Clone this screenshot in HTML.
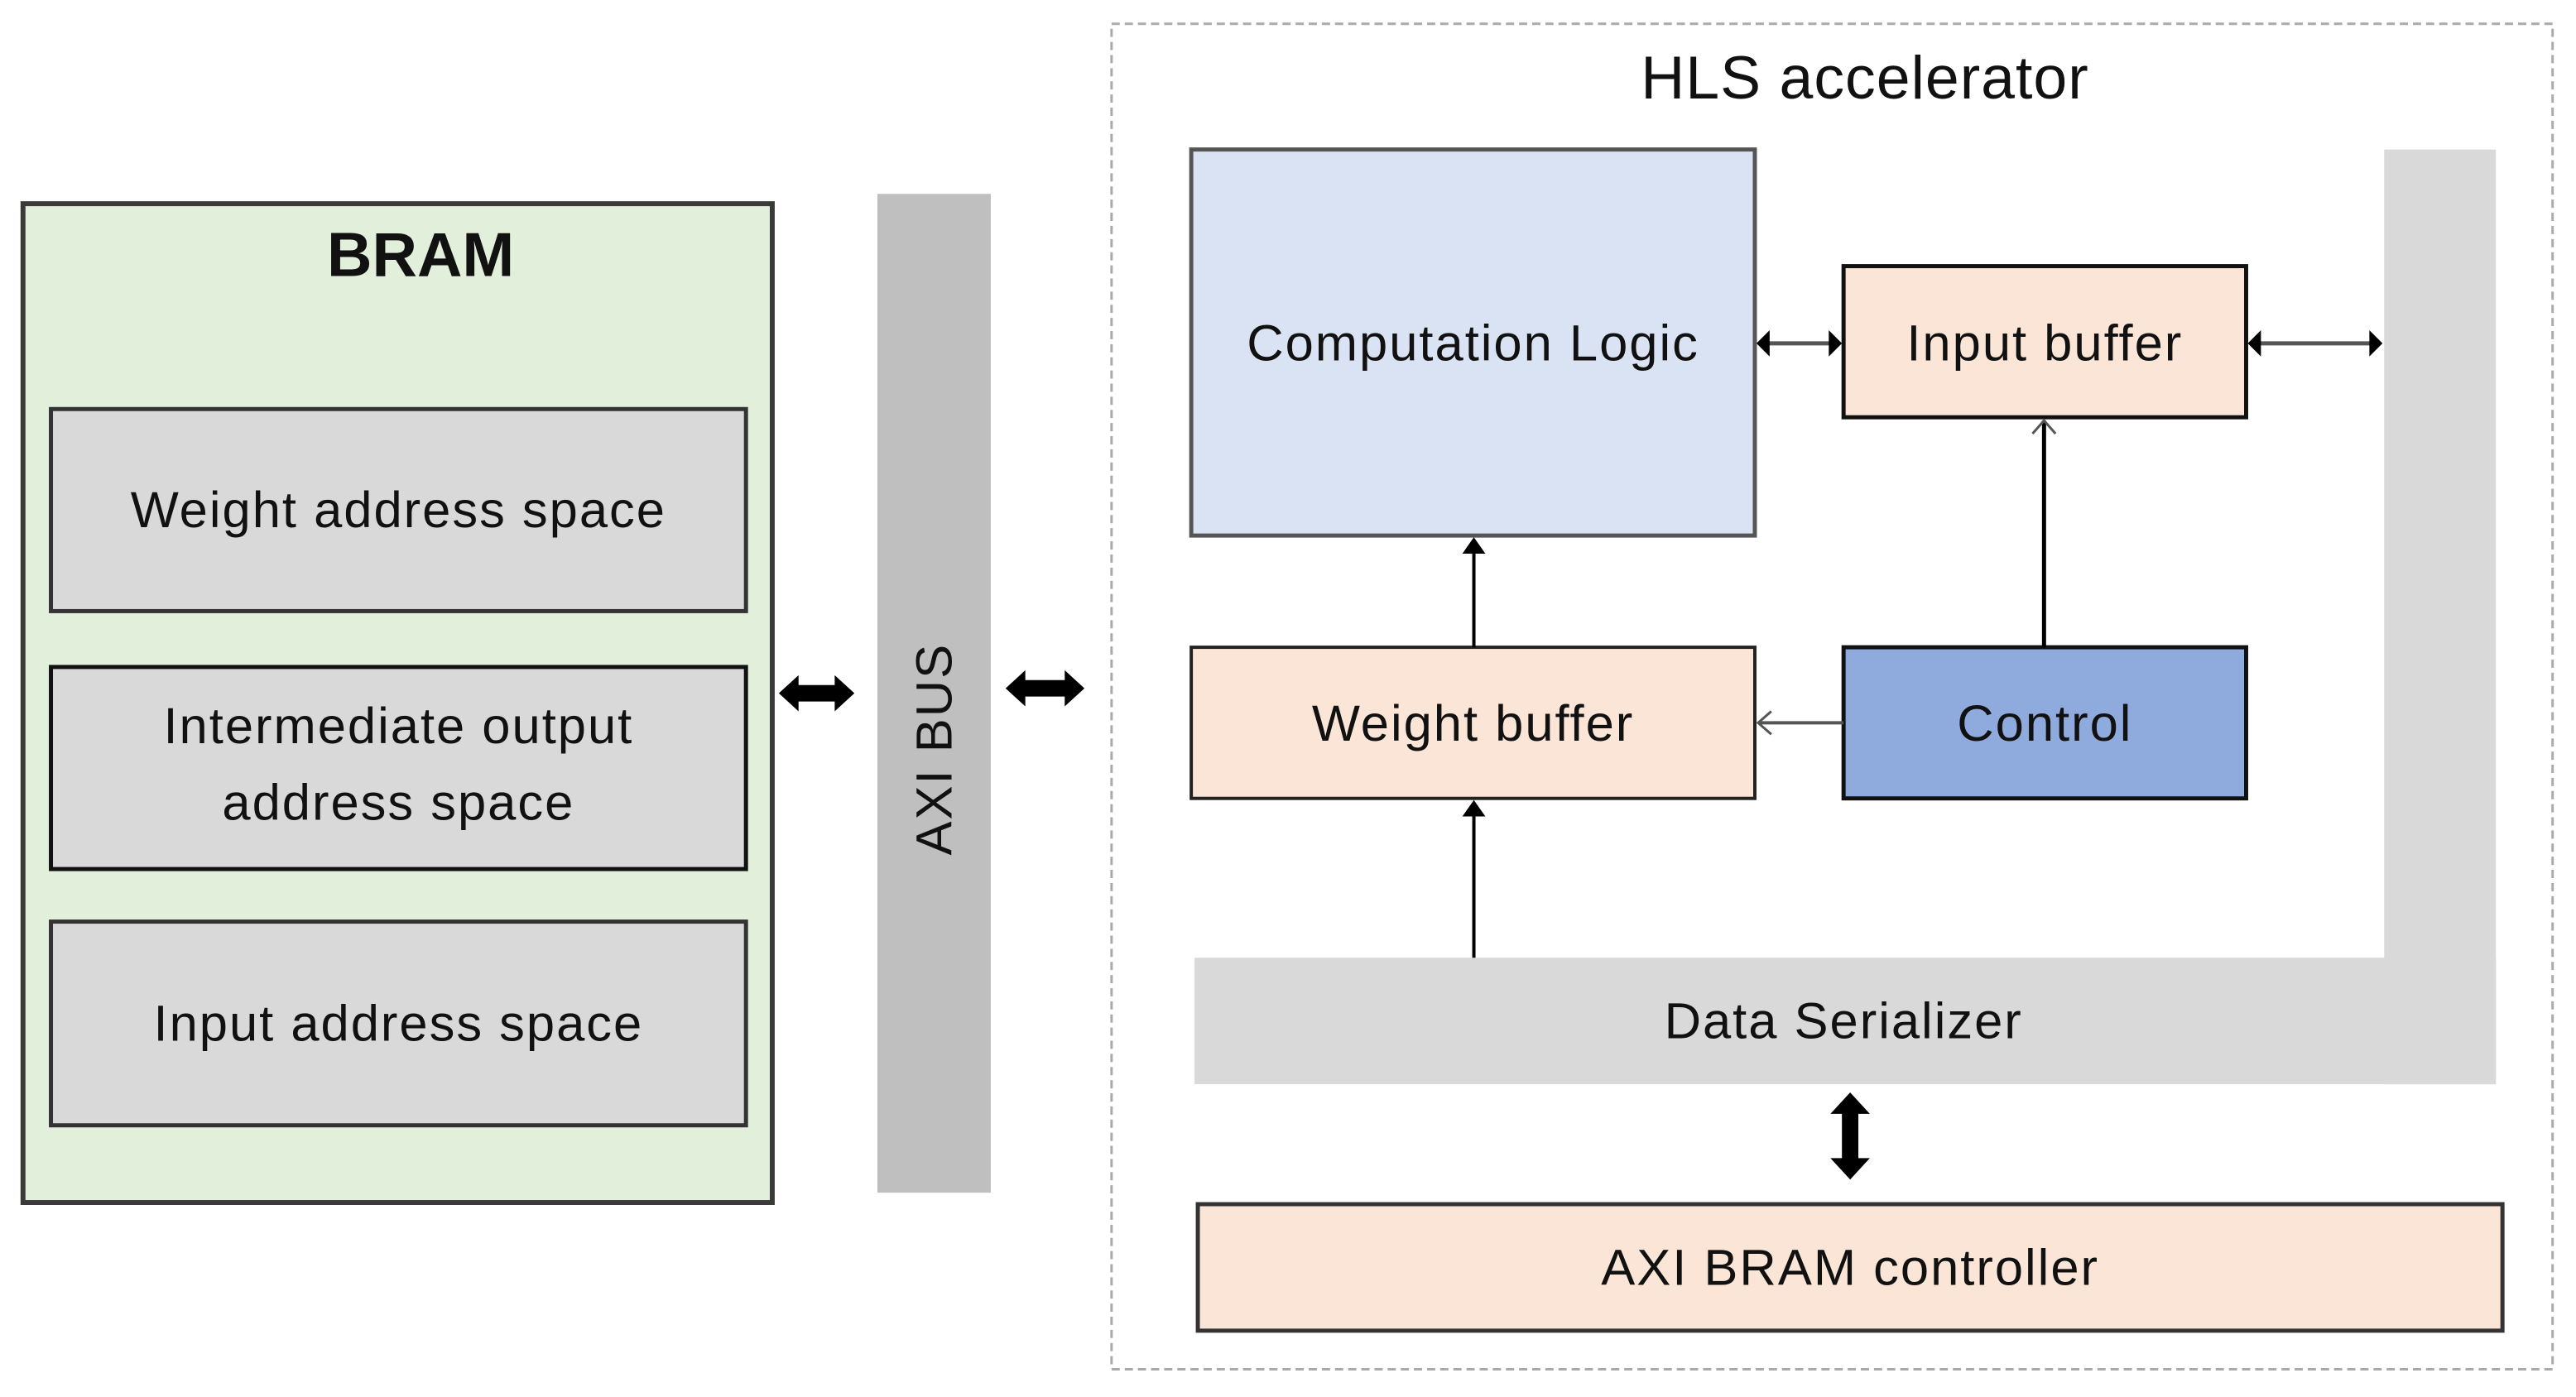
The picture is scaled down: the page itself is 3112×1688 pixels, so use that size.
<!DOCTYPE html>
<html><head><meta charset="utf-8"><style>
html,body{margin:0;padding:0;background:#fff;}
svg{display:block;}
text{font-family:"Liberation Sans",sans-serif;fill:#111;}
.t{font-size:62px;letter-spacing:2px;}
</style></head><body>
<svg width="3112" height="1688" viewBox="0 0 3112 1688" xmlns="http://www.w3.org/2000/svg">
<g transform="scale(0.9925)">
<!-- BRAM -->
<rect x="28" y="248" width="912" height="1216" fill="#e2efda" stroke="#3a3a3a" stroke-width="6"/>
<text x="512" y="336" font-size="76" font-weight="bold" text-anchor="middle">BRAM</text>
<rect x="62" y="498" width="846" height="246" fill="#d9d9d9" stroke="#333" stroke-width="5"/>
<text class="t" x="485" y="642" text-anchor="middle">Weight address space</text>
<rect x="62" y="812" width="846" height="246" fill="#d9d9d9" stroke="#111" stroke-width="5"/>
<text class="t" x="485" y="905" text-anchor="middle">Intermediate output</text>
<text class="t" x="485" y="998" text-anchor="middle">address space</text>
<rect x="62" y="1122" width="846" height="248" fill="#d9d9d9" stroke="#333" stroke-width="5"/>
<text class="t" x="485" y="1267" text-anchor="middle">Input address space</text>
<!-- AXI BUS -->
<rect x="1068" y="236" width="138" height="1216" fill="#bfbfbf"/>
<text class="t" transform="translate(1158,912) rotate(-90)" text-anchor="middle">AXI BUS</text>
<!-- double arrows -->
<path d="M948,844 L972,822 L972,834 L1016,834 L1016,822 L1040,844 L1016,866 L1016,854 L972,854 L972,866 z" fill="#000"/>
<path d="M1224,838 L1248,816 L1248,828 L1296,828 L1296,816 L1320,838 L1296,860 L1296,848 L1248,848 L1248,860 z" fill="#000"/>
<!-- HLS dashed -->
<rect x="1353" y="29" width="1754" height="1638" fill="none" stroke="#aaa" stroke-width="3" stroke-dasharray="10,6"/>
<text x="2270" y="120" font-size="74" letter-spacing="1" text-anchor="middle">HLS accelerator</text>
<!-- gray L -->
<rect x="2902" y="182" width="136" height="1138" fill="#d9d9d9"/>
<rect x="1454" y="1166" width="1584" height="154" fill="#d9d9d9"/>
<text class="t" x="2244" y="1264" text-anchor="middle">Data Serializer</text>
<!-- boxes -->
<rect x="1450" y="182" width="686" height="470" fill="#dae3f3" stroke="#555" stroke-width="5"/>
<text class="t" x="1793" y="439" text-anchor="middle">Computation Logic</text>
<rect x="2244" y="324" width="490" height="184" fill="#fbe5d6" stroke="#111" stroke-width="5"/>
<text class="t" x="2489" y="439" text-anchor="middle">Input buffer</text>
<rect x="1450" y="788" width="686" height="184" fill="#fbe5d6" stroke="#222" stroke-width="4"/>
<text class="t" x="1793" y="902" text-anchor="middle">Weight buffer</text>
<rect x="2244" y="788" width="490" height="184" fill="#8faadc" stroke="#111" stroke-width="5"/>
<text class="t" x="2489" y="902" text-anchor="middle">Control</text>
<rect x="1458" y="1466" width="1588" height="154" fill="#fbe5d6" stroke="#333" stroke-width="5"/>
<text class="t" x="2252" y="1564" text-anchor="middle">AXI BRAM controller</text>
<!-- connectors -->
<line x1="2148" y1="418" x2="2232" y2="418" stroke="#555" stroke-width="5"/>
<path d="M2138,418 L2154,402 L2154,434 z M2242,418 L2226,402 L2226,434 z" fill="#000"/>
<line x1="2746" y1="418" x2="2890" y2="418" stroke="#555" stroke-width="5"/>
<path d="M2736,418 L2752,402 L2752,434 z M2900,418 L2884,402 L2884,434 z" fill="#000"/>
<line x1="1794" y1="788" x2="1794" y2="668" stroke="#000" stroke-width="4"/>
<path d="M1794,654 L1780,674 L1808,674 z" fill="#000"/>
<line x1="1794" y1="1166" x2="1794" y2="988" stroke="#000" stroke-width="4"/>
<path d="M1794,974 L1780,994 L1808,994 z" fill="#000"/>
<line x1="2244" y1="880" x2="2140" y2="880" stroke="#555" stroke-width="4"/>
<path d="M2156,866 L2140,880 L2156,894" fill="none" stroke="#555" stroke-width="3"/>
<line x1="2488" y1="788" x2="2488" y2="512" stroke="#000" stroke-width="5"/>
<path d="M2474,528 L2488,512 L2502,528" fill="none" stroke="#555" stroke-width="3"/>
<path d="M2252,1330 L2276,1356 L2262,1356 L2262,1410 L2276,1410 L2252,1436 L2228,1410 L2242,1410 L2242,1356 L2228,1356 z" fill="#000"/>
</g>
</svg>
</body></html>
